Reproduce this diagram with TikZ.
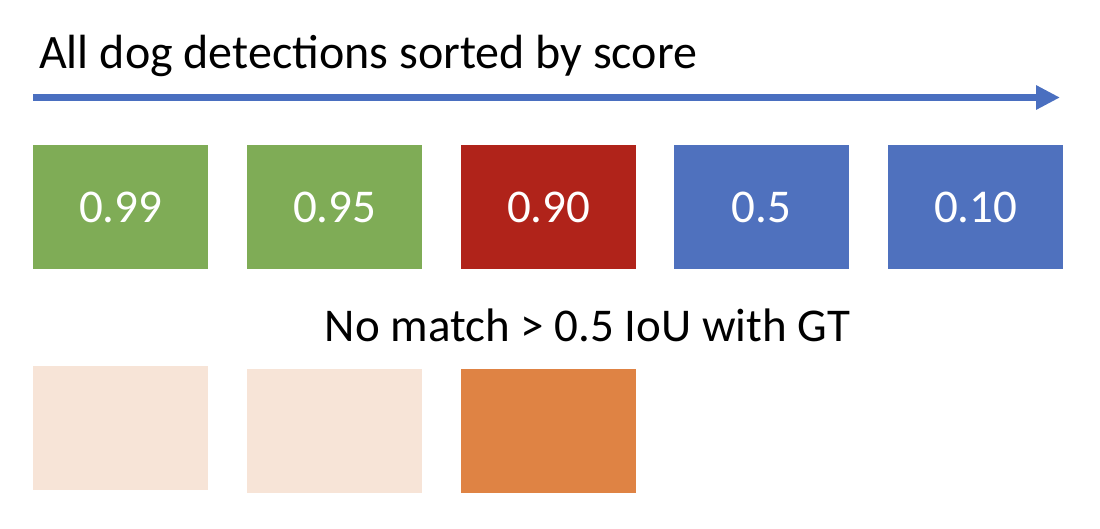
\documentclass[tikz,border=0pt]{standalone}
\usepackage{fontspec}
\setmainfont{Carlito}
\usetikzlibrary{arrows.meta}
\definecolor{boxgreen}{HTML}{7FAC56}
\definecolor{boxred}{HTML}{B0231A}
\definecolor{boxblue}{HTML}{4F71BE}
\definecolor{arrowblue}{HTML}{4A6FC0}
\definecolor{boxlight}{HTML}{F7E4D7}
\definecolor{boxorange}{HTML}{DF8344}
\tikzset{
  det/.style={rectangle, minimum width=175pt, minimum height=124pt, inner sep=0pt,
    anchor=north west, text=white, font=\fontsize{47}{56}\selectfont},
  caption/.style={inner sep=0pt, font=\fontsize{47}{56}\selectfont, text=black}
}
\begin{document}
\begin{tikzpicture}[x=1pt, y=-1pt]
\useasboundingbox (0,0) rectangle (1100,528);
\node[caption, anchor=base west, font=\fontsize{48}{56}\selectfont] (title) at (39,68) {All dog detections sorted by score};
\coordinate (astart) at (33,97.5);
\coordinate (aend) at (1060,97.5);
\draw[arrowblue, line width=7pt, -{Triangle[length=24pt,width=23pt]}] (astart) -- (aend);
\node[det, fill=boxgreen] (d1) at (33,145) {0.99};
\node[det, fill=boxgreen] (d2) at (247,145) {0.95};
\node[det, fill=boxred] (d3) at (461,145) {0.90};
\node[det, fill=boxblue] (d4) at (674,145) {0.5};
\node[det, fill=boxblue] (d5) at (888,145) {0.10};
\node[caption, anchor=base] (nomatch) at (587.5,341) {No match > 0.5 IoU with GT};
\node[det, fill=boxlight] (m1) at (33,366) {};
\node[det, fill=boxlight] (m2) at (247,369) {};
\node[det, fill=boxorange] (m3) at (461,369) {};
\end{tikzpicture}
\end{document}
